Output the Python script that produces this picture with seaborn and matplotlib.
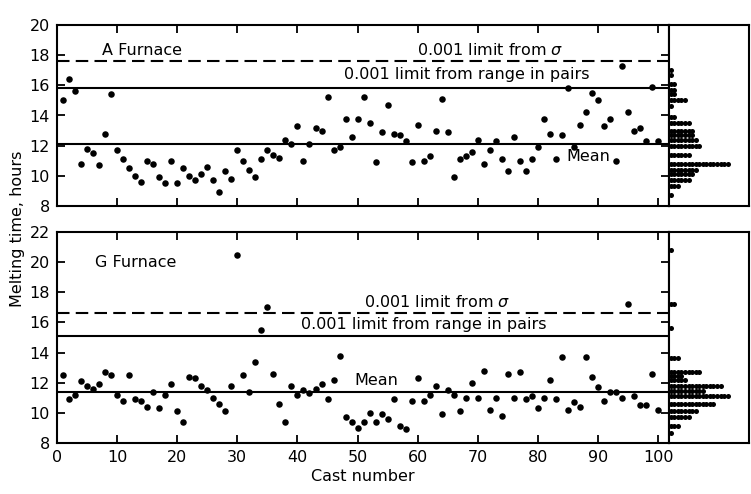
import matplotlib
matplotlib.use("Agg")
import numpy as np
import pandas as pd
import matplotlib.pyplot as plt
import seaborn as sns

# cast numbers and melting times (hours)
CAST_NUMBERS = list(range(1, 101))

A_FURNACE_HOURS = [
    15.0, 16.4, 15.6, 10.8, 11.8, 11.5, 10.7, 12.8, 15.4, 11.7,
    11.1, 10.5, 10.0, 9.6, 11.0, 10.8, 9.9, 9.5, 11.0, 9.5,
    10.5, 10.0, 9.7, 10.1, 10.6, 9.7, 8.9, 10.3, 9.8, 11.7,
    11.0, 10.4, 9.9, 11.1, 11.7, 11.4, 11.2, 12.4, 12.1, 13.3,
    11.0, 12.1, 13.2, 13.0, 15.2, 11.7, 11.9, 13.8, 12.6, 13.8,
    15.2, 13.5, 10.9, 12.9, 14.7, 12.8, 12.7, 12.3, 10.9, 13.4,
    11.0, 11.3, 13.0, 15.1, 12.9, 9.9, 11.1, 11.3, 11.6, 12.4,
    10.8, 11.7, 12.3, 11.1, 10.3, 12.6, 11.0, 10.3, 11.1, 11.9,
    13.8, 12.8, 11.1, 12.7, 15.8, 11.9, 13.4, 14.2, 15.5, 15.0,
    13.3, 13.8, 11.0, 17.3, 14.2, 13.0, 13.2, 12.3, 15.9, 12.3,
]

G_FURNACE_HOURS = [
    12.5, 10.9, 11.2, 12.1, 11.8, 11.6, 11.9, 12.7, 12.5, 11.2,
    10.8, 12.5, 10.9, 10.8, 10.4, 11.4, 10.3, 11.2, 11.9, 10.1,
    9.4, 12.4, 12.3, 11.8, 11.5, 11.0, 10.6, 10.1, 11.8, 20.5,
    12.5, 11.4, 13.4, 15.5, 17.0, 12.6, 10.6, 9.4, 11.8, 11.2,
    11.5, 11.3, 11.6, 11.9, 10.9, 12.2, 13.8, 9.7, 9.4, 9.0,
    9.4, 10.0, 9.4, 9.9, 9.6, 10.9, 9.1, 8.9, 10.8, 12.3,
    10.8, 11.2, 11.8, 9.9, 11.5, 11.2, 10.1, 11.0, 12.0, 11.0,
    12.8, 10.2, 11.0, 9.8, 12.6, 11.0, 12.7, 10.9, 11.1, 10.3,
    11.0, 12.2, 10.9, 13.7, 10.2, 10.7, 10.4, 13.7, 12.4, 11.7,
    10.8, 11.4, 11.4, 11.0, 17.2, 11.1, 10.5, 10.5, 12.6, 10.2,
]

# control lines
A_SIGMA_LIMIT = 17.6
A_RANGE_LIMIT = 15.8
A_MEAN = 12.1
G_SIGMA_LIMIT = 16.6
G_RANGE_LIMIT = 15.1
G_MEAN = 11.4

# dot histograms on the right (row level, number of dots)
A_HIST_LEVELS = [17.0, 16.7, 16.1, 15.7, 15.4, 15.0, 14.6, 13.9, 13.5, 13.0,
                 12.7, 12.35, 11.95, 11.4, 10.8, 10.4, 10.1, 9.75, 9.35, 8.7]
A_HIST_COUNTS = [1, 1, 2, 2, 2, 5, 1, 2, 6, 7,
                 7, 8, 9, 6, 17, 8, 7, 6, 3, 1]
G_HIST_LEVELS = [20.8, 17.2, 15.6, 13.65, 12.7, 12.45, 12.2, 11.75, 11.45,
                 11.1, 10.6, 10.15, 9.7, 9.15, 8.65]
G_HIST_COUNTS = [1, 2, 1, 3, 9, 4, 5, 15, 10, 17, 13, 8, 6, 3, 1]

FIG_W, FIG_H = 751, 494
FONT_SIZE = 11.5

sns.set_style("ticks")
plt.rcParams["font.family"] = ["DejaVu Sans"]
plt.rcParams.update({
    "axes.linewidth": 1.5,
    "axes.edgecolor": "black",
    "text.color": "black",
    "axes.labelcolor": "black",
    "xtick.color": "black",
    "ytick.color": "black",
})


def px_box(left, top, right, bottom):
    return [left / FIG_W, 1 - bottom / FIG_H,
            (right - left) / FIG_W, (bottom - top) / FIG_H]


def draw_panel(ax, hours, sigma, rng, mean, ylim, yticks):
    df = pd.DataFrame({"cast": CAST_NUMBERS, "hours": hours})
    sns.scatterplot(data=df, x="cast", y="hours", color="black", s=22,
                    linewidth=0, ax=ax, zorder=3)
    ax.axhline(sigma, color="black", lw=1.5, ls=(0, (6, 3)))
    ax.axhline(rng, color="black", lw=1.5)
    ax.axhline(mean, color="black", lw=1.5)
    ax.set_xlim(0, 101.8)
    ax.set_ylim(*ylim)
    ax.set_yticks(yticks)
    ax.set_xticks(range(0, 101, 10))
    ax.tick_params(direction="in", top=True, right=True, length=6,
                   width=1.3, labelsize=FONT_SIZE, pad=5)
    ax.set_xlabel("")
    ax.set_ylabel("")
    for s in ax.spines.values():
        s.set_visible(True)


def draw_hist(ax, levels, counts, ylim):
    rows = [(i + 0.5, lvl) for lvl, c in zip(levels, counts) for i in range(c)]
    hdf = pd.DataFrame(rows, columns=["count", "hours"])
    sns.scatterplot(data=hdf, x="count", y="hours", color="black", s=13,
                    linewidth=0, ax=ax)
    ax.set_xlim(0, 22.5)
    ax.set_ylim(*ylim)
    ax.set_xticks([])
    ax.set_yticks([])
    ax.set_xlabel("")
    ax.set_ylabel("")
    for s in ax.spines.values():
        s.set_visible(True)


fig = plt.figure(figsize=(FIG_W / 100, FIG_H / 100), dpi=100)

ax_a = fig.add_axes(px_box(57, 25, 669, 206))
ax_a_hist = fig.add_axes(px_box(669, 25, 749, 206))
ax_g = fig.add_axes(px_box(57, 232, 669, 443))
ax_g_hist = fig.add_axes(px_box(669, 232, 749, 443))

draw_panel(ax_a, A_FURNACE_HOURS, A_SIGMA_LIMIT, A_RANGE_LIMIT, A_MEAN,
           (8, 20), range(8, 21, 2))
ax_a.tick_params(labelbottom=False)
draw_hist(ax_a_hist, A_HIST_LEVELS, A_HIST_COUNTS, (8, 20))

draw_panel(ax_g, G_FURNACE_HOURS, G_SIGMA_LIMIT, G_RANGE_LIMIT, G_MEAN,
           (8, 22), range(8, 23, 2))
draw_hist(ax_g_hist, G_HIST_LEVELS, G_HIST_COUNTS, (8, 22))

# annotations
ax_a.text(7.5, 18.3, "A Furnace", fontsize=FONT_SIZE, va="center")
ax_a.text(84.3, 18.35, "0.001 limit from $\\sigma$", fontsize=FONT_SIZE,
          ha="right", va="center")
ax_a.text(88.5, 16.7, "0.001 limit from range in pairs", fontsize=FONT_SIZE,
          ha="right", va="center")
ax_a.text(84.8, 11.25, "Mean", fontsize=FONT_SIZE, va="center")

ax_g.text(6.4, 20.0, "G Furnace", fontsize=FONT_SIZE, va="center")
ax_g.text(75.5, 17.35, "0.001 limit from $\\sigma$", fontsize=FONT_SIZE,
          ha="right", va="center")
ax_g.text(81.4, 15.85, "0.001 limit from range in pairs", fontsize=FONT_SIZE,
          ha="right", va="center")
ax_g.text(49.4, 12.15, "Mean", fontsize=FONT_SIZE, va="center")

ax_g.set_xlabel("Cast number", fontsize=FONT_SIZE, labelpad=3)
fig.text(17.5 / FIG_W, 1 - 229 / FIG_H, "Melting time, hours",
         rotation=90, fontsize=FONT_SIZE, ha="center", va="center")

fig.savefig("out.png", dpi=100)
